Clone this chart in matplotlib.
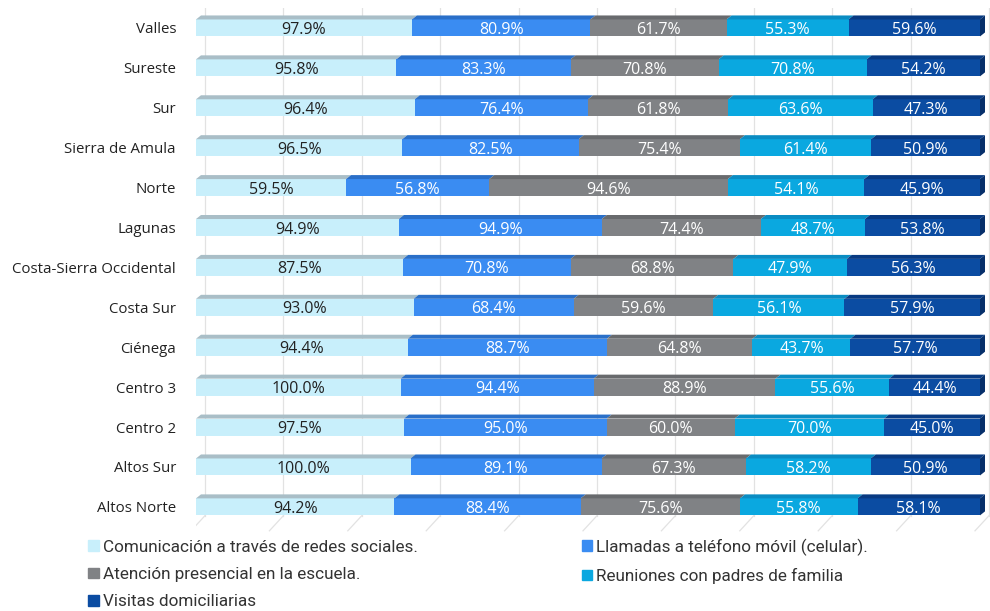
import matplotlib.pyplot as plt
from matplotlib.patches import Polygon, Patch
import numpy as np

regiones = ["Valles", "Sureste", "Sur", "Sierra de Amula", "Norte", "Lagunas",
            "Costa-Sierra Occidental", "Costa Sur", "Ciénega", "Centro 3",
            "Centro 2", "Altos Sur", "Altos Norte"]
redes = [97.9, 95.8, 96.4, 96.5, 59.5, 94.9, 87.5, 93.0, 94.4, 100.0, 97.5, 100.0, 94.2]
llamadas = [80.9, 83.3, 76.4, 82.5, 56.8, 94.9, 70.8, 68.4, 88.7, 94.4, 95.0, 89.1, 88.4]
presencial = [61.7, 70.8, 61.8, 75.4, 94.6, 74.4, 68.8, 59.6, 64.8, 88.9, 60.0, 67.3, 75.6]
reuniones = [55.3, 70.8, 63.6, 61.4, 54.1, 48.7, 47.9, 56.1, 43.7, 55.6, 70.0, 58.2, 55.8]
visitas = [59.6, 54.2, 47.3, 50.9, 45.9, 53.8, 56.3, 57.9, 57.7, 44.4, 45.0, 50.9, 58.1]

series = [
    ("Comunicación a través de redes sociales.", redes),
    ("Llamadas a teléfono móvil (celular).", llamadas),
    ("Atención presencial en la escuela.", presencial),
    ("Reuniones con padres de familia", reuniones),
    ("Visitas domiciliarias", visitas),
]
front = ["#c8effb", "#3a8cf2", "#808285", "#0aa8e0", "#0b4ca2"]
top = ["#a9bec7", "#2a6fc8", "#686a6d", "#0a8cc2", "#083a82"]
txt = ["#222222", "white", "white", "white", "white"]

fig = plt.figure(figsize=(9.9, 6.11), dpi=100)
ax = fig.add_axes([196 / 990, (611 - 540) / 611, (990 - 196) / 990, 532 / 611])

vals = np.array([s[1] for s in series])
fracs = vals / vals.sum(axis=0)
y = np.arange(len(regiones))
h = 17 / 39.9
dx = 5 / 784
dy = 4 / 39.9

# rejilla con perspectiva
gdx = 9 / 784
for k in range(11):
    gx = k * 0.1 + gdx
    ax.plot([gx, gx], [-0.5, 12.22], color="#e2e2e2", lw=0.9, zorder=0)
    ax.plot([gx, gx - 14 / 784], [12.22, 12.6], color="#e2e2e2", lw=0.9, zorder=0)

left = np.zeros(len(regiones))
for j, (name, v) in enumerate(series):
    w = fracs[j]
    ax.barh(y, w, left=left, height=h, color=front[j], zorder=2)
    for i in range(len(regiones)):
        x0, x1 = left[i], left[i] + w[i]
        yt = y[i] - h / 2
        ax.add_patch(Polygon([(x0, yt), (x1, yt), (x1 + dx, yt - dy), (x0 + dx, yt - dy)],
                             closed=True, color=top[j], lw=0, zorder=2))
        if j == len(series) - 1:
            yb = y[i] + h / 2
            ax.add_patch(Polygon([(x1, yt), (x1 + dx, yt - dy), (x1 + dx, yb - dy), (x1, yb)],
                                 closed=True, color="#062f6a", lw=0, zorder=2))
        ax.text((x0 + x1) / 2, y[i] + 0.05, f"{v[i]:.1f}%", ha="center", va="center",
                color=txt[j], fontsize=11.5, family="Open Sans", weight="medium", zorder=3)
    left = left + w

ax.set_xlim(0, 1 + 10 / 784)
ax.set_ylim(12.83, -0.5)
ax.set_yticks(y)
ax.set_yticklabels(regiones, fontsize=10.8, family="Open Sans", weight="medium",
                   color="#222222")
ax.set_xticks([])
ax.tick_params(axis="y", length=0, pad=14.4)
for s in ax.spines.values():
    s.set_visible(False)

handles = [Patch(color=front[j], label=series[j][0]) for j in range(5)]
order = [0, 2, 4, 1, 3]
fig.legend([handles[k] for k in order], [series[k][0] for k in order],
           ncol=2, loc="upper left", bbox_to_anchor=(73 / 990, 1 - 523 / 611),
           frameon=False, prop={"family": "Roboto", "size": 12.3},
           handlelength=0.6, handleheight=0.6, handletextpad=0.25,
           columnspacing=9.6, labelspacing=0.72, labelcolor="#333333")

fig.savefig("out.png", dpi=100)
